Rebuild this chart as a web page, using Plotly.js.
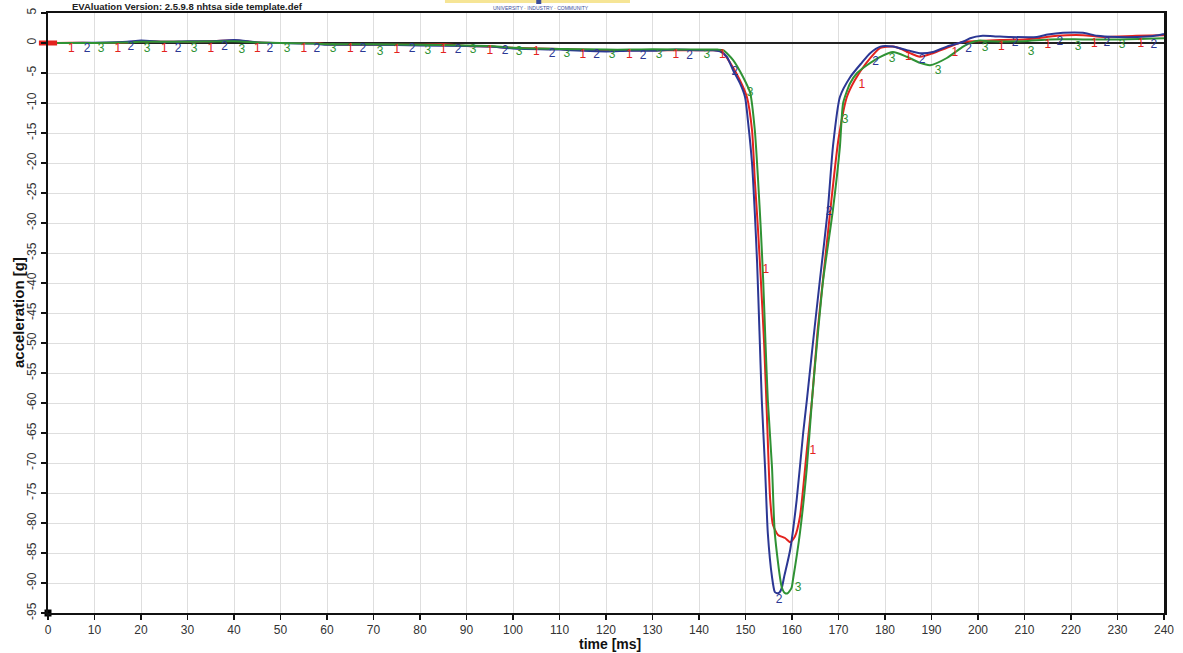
<!DOCTYPE html>
<html>
<head>
<meta charset="utf-8">
<script src="https://cdn.plot.ly/plotly-3.0.1.min.js"></script>
<style>html,body{margin:0;padding:0;background:#fff;}#chart{width:1183px;height:653px;}</style>
</head>
<body>
<div id="chart"></div>
<script>
// ---- curve data (time ms, acceleration g) ----
var t1 = [0,5,10,17,20,25,30,35,40,45,50,57,60,70,80,85,90,95,100,110,120,130,140,143,144.9,146.7,148.8,150.3,151.4,152,152.7,153.3,154,154.6,155.3,155.9,157,158.5,159.6,160.6,161.7,163.2,164.3,165.5,167,168.5,170,171.8,173.5,176,179,181.7,183.5,185.4,187.5,190.3,193.3,196.8,200,204.7,210,212.7,217,222.6,227,234,240];
var a1 = [0,0.05,0,0.1,0.3,0.2,0.2,0.3,0.4,0.1,0,0,-0.2,-0.3,-0.3,-0.2,-0.5,-0.6,-0.8,-1.0,-1.2,-1.2,-1.2,-1.2,-1.4,-3.3,-6.2,-9,-14.5,-22.8,-31.2,-39.5,-50,-62,-76,-80.3,-82,-82.5,-83.2,-82.3,-79,-67.8,-59.5,-48,-37,-26,-16,-9,-6.2,-3.3,-0.8,-0.6,-1,-1.7,-2.3,-1.7,-0.8,0.2,0.3,0.5,0.6,0.8,1.2,1.3,1.0,1.2,1.3];

var t2 = [0,5,10,17,20,25,30,35,40,43,45,50,57,60,65,70,80,90,95,100,110,115,120,125,130,135,140,143,144.5,146,147.3,148.8,149.9,150.5,151.4,152,152.5,153,153.5,154.2,154.8,155.7,156.3,156.8,157.3,157.8,158.3,159.6,161,162.4,163.2,164.5,166,167.7,168.8,170.3,172.5,175,176.8,179,181.7,184.7,187.5,190.3,193.3,196.8,198.3,201,204,206.9,212.7,215,218.3,222.6,225.6,229.9,234.2,238,240];
var a2 = [0,0,0.05,0.2,0.4,0.2,0.3,0.3,0.5,0.3,0.1,0,-0.1,-0.3,-0.3,-0.3,-0.4,-0.5,-0.6,-0.9,-1.1,-1.3,-1.4,-1.3,-1.3,-1.1,-1.2,-1.2,-1.4,-2.3,-4.5,-6.7,-9,-12.8,-20,-28.3,-36.7,-48,-59.5,-70.7,-81.7,-89,-91.5,-91.7,-91.6,-90.8,-89,-84.5,-76.2,-65,-59.5,-50,-39.5,-27.8,-17.3,-9,-5.7,-3.3,-1.7,-0.6,-0.6,-1.2,-1.7,-1.5,-0.6,0.2,0.8,1.2,1.1,1.0,1.0,1.4,1.7,1.7,1.2,1.0,1.0,1.2,1.5];

var t3 = [0,10,17,20,30,40,45,50,57,60,70,80,90,95,100,110,120,125,130,140,144,145.2,147.3,149.5,151,152,152.7,153.3,153.8,154.3,154.8,155.7,156.3,157.8,158.5,159.1,159.9,160.2,161.7,163.2,164.3,165.5,166.7,168.8,170.3,171,172.5,174,176.1,179,181.7,184.7,187.5,189.7,193.3,196.8,198.3,200.4,202.6,209.7,215.5,222.6,229.9,240];
var a3 = [0,0,0.1,0.2,0.2,0.3,0.1,0,-0.1,-0.2,-0.2,-0.3,-0.4,-0.5,-0.8,-1.0,-1.1,-1.1,-1.05,-1.1,-1.1,-1.2,-2.8,-5.7,-8.3,-14.5,-22.8,-31.2,-39.5,-50,-59.5,-70.7,-81.7,-90.7,-91.7,-91.7,-90.8,-89.5,-81.7,-70.7,-59.5,-49,-39.5,-27.8,-17.3,-10,-6.7,-5,-3.7,-2.3,-1.5,-2.3,-3.3,-3.7,-2.5,-0.6,0,0.4,0.3,0.3,0.6,0.6,0.6,0.8];

// ---- curve number labels (positions) ----
var lab1T = [5,15,25,35,45,55,65,75,85,95,105,115,125,135,145,154.4,164.5,175,185,195,205,215,225,235];
var lab1A = [-1,-1,-1,-1,-1,-1,-1,-1.17,-1.17,-1.33,-1.5,-2,-2,-2,-2,-37.8,-68,-7,-2.33,-1.67,-0.67,-0.33,-0.17,-0.17];
var lab2T = [8.4,17.8,28,38,47.7,57.8,67.7,78.3,88.2,98.3,108.4,118,128,138,147.7,157.2,168,178,188,198,208,217.6,227.7,237.8];
var lab2A = [-1,-0.67,-1,-0.67,-1,-1,-1,-1,-1.17,-1.33,-1.83,-2,-2.17,-2.17,-4.83,-92.8,-28.2,-3.17,-2.83,-1,0,0.17,0,-0.33];
var lab3T = [11.4,21.3,31.4,41.7,51.4,61.3,71.4,81.7,91.4,101.3,111.6,121.3,131.4,141.7,151,161.3,171.4,181.5,191.4,201.5,211.4,221.5,231];
var lab3A = [-1,-1,-1,-1.17,-1,-1,-1.5,-1.33,-1.17,-1.5,-1.83,-2,-2,-2,-8.33,-90.8,-12.8,-2.67,-4.67,-0.83,-1.5,-0.67,-0.33];

var xTicks = [0,10,20,30,40,50,60,70,80,90,100,110,120,130,140,150,160,170,180,190,200,210,220,230,240];
var yTicks = [5,0,-5,-10,-15,-20,-25,-30,-35,-40,-45,-50,-55,-60,-65,-70,-75,-80,-85,-90,-95];

var RED = '#e3231e', BLUE = '#2b3794', GREEN = '#2f9234';
var FONT = 'Liberation Sans, Arial, Helvetica, sans-serif';

function labelTrace(xs, ys, ch, col) {
  return {x: xs, y: ys, mode: 'text', text: xs.map(function(){return ch;}),
    textposition: 'middle center', textfont: {family: FONT, size: 12, color: col},
    hoverinfo: 'skip', showlegend: false, cliponaxis: false};
}
function lineTrace(xs, ys, col) {
  return {x: xs, y: ys, mode: 'lines', line: {color: col, width: 2, shape: 'spline', smoothing: 0.6}, showlegend: false};
}

var traces = [
  lineTrace(t1, a1, RED),
  lineTrace(t2, a2, BLUE),
  lineTrace(t3, a3, GREEN),
  labelTrace(lab1T, lab1A, '1', RED),
  labelTrace(lab2T, lab2A, '2', BLUE),
  labelTrace(lab3T, lab3A, '3', GREEN),
  {x: [0], y: [0], mode: 'markers', marker: {symbol: 'line-ew', size: 13, color: RED, line: {color: RED, width: 5}}, cliponaxis: false, showlegend: false},
  {x: [0], y: [-95], mode: 'markers', marker: {symbol: 'square', size: 7, color: '#000'}, cliponaxis: false, showlegend: false}
];

var layout = {
  width: 1183, height: 653,
  margin: {l: 48, r: 19, t: 13, b: 40},
  paper_bgcolor: '#fff', plot_bgcolor: '#fff',
  font: {family: FONT, color: '#333'},
  showlegend: false,
  xaxis: {
    range: [0, 240], tickvals: xTicks, ticktext: xTicks.map(String),
    showgrid: true, gridcolor: '#dedede', gridwidth: 1,
    zeroline: false, showline: true, linecolor: '#111', linewidth: 2, mirror: true,
    ticks: 'outside', ticklen: 5, tickcolor: '#111', tickwidth: 1.5,
    tickfont: {family: FONT, size: 12, color: '#333'}
  },
  yaxis: {
    range: [-95, 5], tickvals: yTicks, ticktext: yTicks.map(String),
    showgrid: true, gridcolor: '#dedede', gridwidth: 1,
    zeroline: true, zerolinecolor: '#222', zerolinewidth: 1.5,
    showline: true, linecolor: '#111', linewidth: 2.5, mirror: true,
    ticks: 'outside', ticklen: 5, tickcolor: '#111', tickwidth: 1.5, tickangle: -90,
    tickfont: {family: FONT, size: 12, color: '#333'}
  },
  shapes: [
    {type: 'rect', xref: 'paper', yref: 'paper', x0: 0.3557, x1: 0.5215, y0: 1.0167, y1: 1.0217,
      fillcolor: '#f6e596', line: {width: 0}, layer: 'above'},
    {type: 'rect', xref: 'paper', yref: 'paper', x0: 0.4375, x1: 0.4420, y0: 1.0150, y1: 1.0217,
      fillcolor: '#3a4c9a', line: {width: 0}, layer: 'above'}
  ],
  annotations: [
    {text: '<b>EVAluation Version: 2.5.9.8 nhtsa side template.def</b>', xref: 'paper', yref: 'paper',
      x: 0.0197, y: 1, xanchor: 'left', yanchor: 'middle', yshift: 7, showarrow: false,
      font: {family: FONT, size: 9.5, color: '#222'}},
    {text: 'UNIVERSITY <span style="color:#e0b840">-</span> INDUSTRY <span style="color:#e0b840">-</span> COMMUNITY',
      xref: 'paper', yref: 'paper', x: 0.4418, y: 1, xanchor: 'center', yanchor: 'middle', yshift: 5,
      showarrow: false, font: {family: FONT, size: 5, color: '#3a4c9a'}},
    {text: '<b>acceleration [g]</b>', xref: 'paper', yref: 'paper', x: 0, y: 0.5,
      xanchor: 'center', yanchor: 'middle', xshift: -30, textangle: -90, showarrow: false,
      font: {family: FONT, size: 15, color: '#111'}},
    {text: '<b>time [ms]</b>', xref: 'paper', yref: 'paper', x: 0.5, y: 0,
      xanchor: 'center', yanchor: 'middle', yshift: -31, xshift: 4, showarrow: false,
      font: {family: FONT, size: 14, color: '#111'}}
  ]
};

Plotly.newPlot('chart', traces, layout, {displayModeBar: false, staticPlot: true});
</script>
</body>
</html>
